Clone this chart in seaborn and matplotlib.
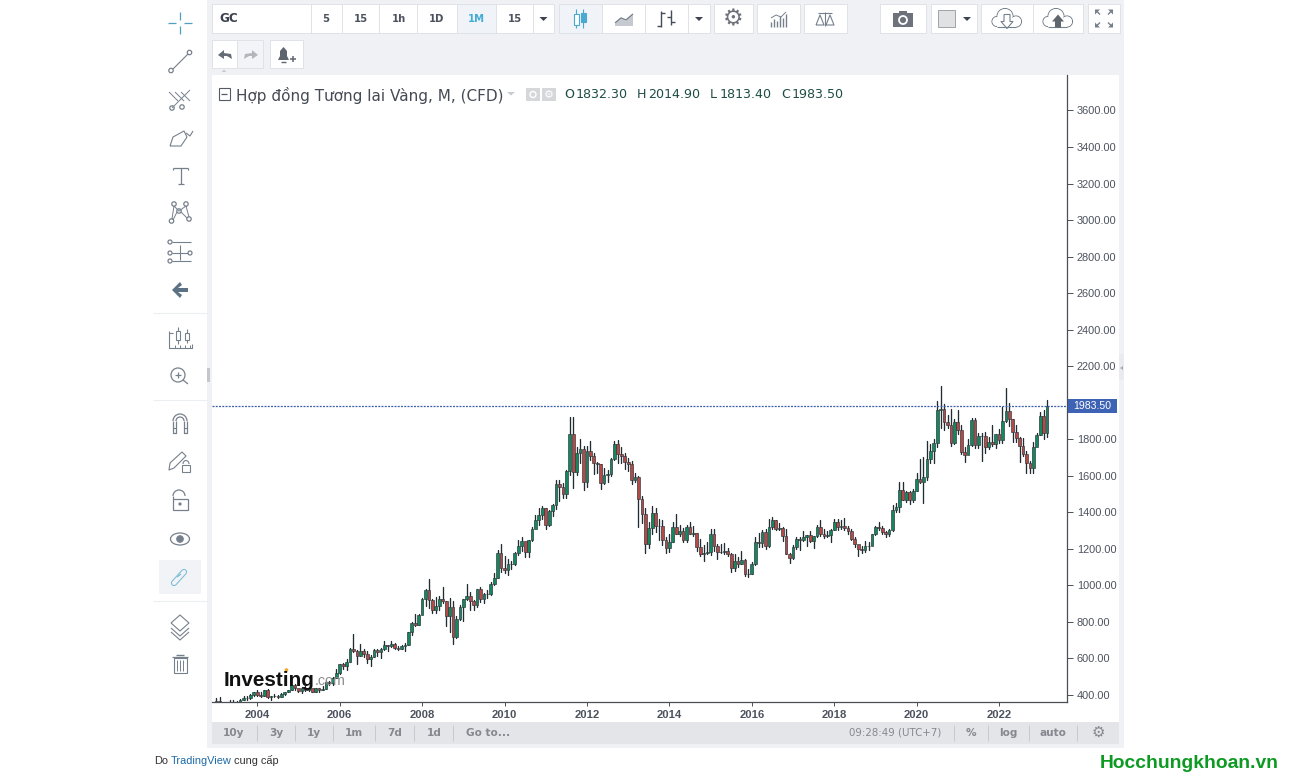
import numpy as np
import pandas as pd
import matplotlib
matplotlib.use("Agg")
import matplotlib.pyplot as plt
from matplotlib.patches import Rectangle, Circle, Polygon
import seaborn as sns

# Monthly candles, Jan 2003 .. Mar 2023
opens = [347,368,347,336,339,364,346,354,375,385,386,398,
 415,399,396,427,388,394,395,391,408,416,428,453,
 438,422,436,428,436,418,436,430,433,473,464,495,
 518,570,557,582,652,643,614,642,626,599,606,648,
 638,651,672,669,680,660,650,668,672,743,795,783,
 838,926,975,921,865,888,928,913,834,884,718,816,
 884,928,942,917,891,979,927,954,955,1008,1040,1179,
 1097,1083,1118,1115,1180,1213,1244,1181,1248,1307,1359,1386,
 1421,1333,1409,1439,1556,1536,1502,1628,1827,1620,1725,1746,
 1566,1738,1711,1669,1664,1560,1604,1610,1691,1776,1719,1711,
 1675,1662,1578,1595,1472,1393,1224,1313,1396,1327,1323,1250,
 1202,1240,1321,1284,1296,1246,1322,1282,1287,1210,1172,1175,
 1184,1279,1213,1183,1184,1190,1172,1095,1132,1115,1141,1065,
 1060,1118,1238,1234,1293,1217,1322,1357,1311,1313,1272,1173,
 1152,1210,1252,1251,1266,1276,1241,1269,1322,1283,1271,1275,
 1303,1345,1318,1325,1315,1299,1253,1224,1201,1192,1215,1217,
 1281,1320,1316,1292,1283,1305,1413,1427,1520,1465,1511,1470,
 1517,1582,1566,1596,1694,1736,1780,1962,1968,1892,1878,1780,
 1895,1850,1728,1713,1768,1905,1771,1817,1816,1755,1784,1776,
 1828,1796,1900,1954,1911,1842,1807,1764,1722,1672,1640,1759,
 1824,1928,1832.3]
highs = [383,390,352,341,373,371,367,377,393,392,408,417,
 427,418,428,432,397,406,402,412,418,430,457,458,
 429,444,447,438,431,441,439,447,476,476,498,542,
 571,575,595,660,733,645,678,654,640,620,651,650,
 660,693,672,695,683,670,674,682,745,797,845,842,
 931,978,1034,925,934,941,989,913,930,914,830,890,
 928,1007,962,920,981,989,960,974,1020,1070,1195,1227,
 1162,1144,1135,1183,1249,1266,1215,1250,1320,1388,1425,1432,
 1424,1412,1448,1577,1578,1560,1632,1920,1920,1760,1804,1764,
 1765,1790,1726,1677,1666,1640,1632,1695,1790,1798,1755,1725,
 1695,1680,1616,1600,1488,1424,1348,1434,1426,1361,1360,1266,
 1280,1345,1392,1332,1315,1331,1345,1323,1287,1255,1222,1240,
 1307,1308,1224,1225,1232,1205,1175,1170,1158,1191,1143,1090,
 1128,1263,1287,1305,1306,1362,1377,1358,1344,1318,1306,1178,
 1220,1264,1264,1297,1276,1298,1270,1331,1358,1306,1300,1309,
 1366,1366,1356,1369,1326,1310,1265,1221,1214,1245,1240,1284,
 1326,1349,1324,1300,1306,1442,1452,1565,1566,1518,1516,1525,
 1613,1691,1704,1788,1775,1802,2012,2089,1992,1933,1965,1911,
 1959,1877,1755,1800,1916,1919,1836,1835,1837,1814,1878,1830,
 1857,1976,2078,1998,1912,1879,1815,1808,1735,1683,1787,1833,
 1950,1960,2014.9]
lows = [345,346,323,325,337,338,342,352,372,371,380,396,
 393,390,394,386,375,390,385,388,402,415,425,430,
 414,413,424,420,414,414,417,430,433,457,456,492,
 513,540,537,580,636,567,615,610,575,560,606,612,
 604,645,640,665,651,644,650,642,671,727,777,783,
 846,885,875,849,850,866,902,775,745,681,713,808,
 807,920,866,865,884,908,906,932,950,1000,1040,1076,
 1070,1059,1088,1114,1165,1188,1157,1158,1242,1315,1331,1361,
 1309,1326,1381,1420,1462,1478,1478,1605,1534,1605,1668,1523,
 1540,1688,1612,1616,1527,1553,1565,1598,1684,1671,1670,1635,
 1627,1554,1565,1321,1339,1180,1207,1282,1292,1251,1221,1180,
 1182,1240,1280,1268,1240,1240,1280,1273,1190,1161,1131,1170,
 1167,1190,1142,1175,1170,1162,1072,1078,1098,1115,1052,1046,
 1061,1111,1208,1208,1200,1208,1310,1301,1305,1241,1171,1124,
 1146,1200,1195,1245,1214,1238,1205,1267,1272,1261,1265,1238,
 1302,1303,1307,1301,1282,1246,1210,1160,1180,1183,1196,1221,
 1276,1302,1281,1266,1273,1297,1400,1400,1465,1459,1445,1454,
 1517,1563,1451,1577,1669,1671,1757,1863,1850,1860,1764,1776,
 1828,1717,1673,1722,1765,1750,1750,1682,1725,1746,1762,1753,
 1781,1782,1892,1872,1785,1785,1678,1709,1615,1617,1616,1770,
 1825,1804,1813.4]
closes = [368,347,336,339,364,346,354,375,385,386,398,415,
 399,396,427,388,394,395,391,408,416,428,453,438,
 422,436,428,436,418,436,430,433,473,464,495,518,
 570,557,582,652,643,614,642,626,599,606,648,638,
 651,672,669,680,660,650,668,672,743,795,783,838,
 926,975,921,865,888,928,913,834,884,718,816,884,
 928,942,917,891,979,927,954,955,1008,1040,1179,1097,
 1083,1118,1115,1180,1213,1244,1181,1248,1307,1359,1386,1421,
 1333,1409,1439,1556,1536,1502,1628,1827,1620,1725,1746,1566,
 1738,1711,1669,1664,1560,1604,1610,1691,1776,1719,1711,1675,
 1662,1578,1595,1472,1393,1224,1313,1396,1327,1323,1250,1202,
 1240,1321,1284,1296,1246,1322,1282,1287,1210,1172,1175,1184,
 1279,1213,1183,1184,1190,1172,1095,1132,1115,1141,1065,1060,
 1118,1238,1234,1293,1217,1322,1357,1311,1313,1272,1173,1152,
 1210,1252,1251,1266,1276,1241,1269,1322,1283,1271,1275,1303,
 1345,1318,1325,1315,1299,1253,1224,1201,1192,1215,1217,1281,
 1320,1316,1292,1283,1305,1413,1427,1520,1465,1511,1470,1517,
 1582,1566,1596,1694,1736,1780,1962,1968,1892,1878,1780,1895,
 1850,1728,1713,1768,1905,1771,1817,1816,1755,1784,1776,1828,
 1796,1900,1954,1911,1842,1807,1764,1722,1672,1640,1759,1824,
 1928,1836,1983.5]
year_ticks = [2004,2006,2008,2010,2012,2014,2016,2018,2020,2022]
price_ticks = [400,600,800,1000,1200,1400,1600,1800,2000,2200,2400,2600,2800,3000,3200,3400,3600]
hidden_price_label = 2000   # covered by the last-price tag in the reference
last_price = 1983.5

sns.set_theme(style="white")
plt.rcParams['font.family'] = ['DejaVu Sans']
W, H = 1289, 782
fig = plt.figure(figsize=(W/100, H/100), dpi=100, facecolor="white")

# ---------- chrome background (pixel coordinates) ----------
bg = fig.add_axes([0,0,1,1], zorder=0); bg.set_xlim(0,W); bg.set_ylim(H,0); bg.axis("off")
fg = fig.add_axes([0,0,1,1], zorder=5); fg.set_xlim(0,W); fg.set_ylim(H,0); fg.axis("off"); fg.patch.set_alpha(0)
PANEL, BAR = "#eff1f5", "#e3e5e9"
EDGE, ICON, TXT = "#dfe2e7", "#76808c", "#4c525e"

def rect(x0,y0,x1,y1,fc="white",ec="none",ax=bg,lw=0.7,z=1):
    ax.add_patch(Rectangle((x0,y0),x1-x0,y1-y0,fc=fc,ec=ec,lw=lw,zorder=z))
def line(xs,ys,c=ICON,lw=0.9,ax=bg,z=3,**k):
    ax.plot(xs,ys,color=c,lw=lw,zorder=z,solid_capstyle=k.pop("cap","butt"),**k)
def circ(x,y,r,ec=ICON,fc="none",lw=0.9,ax=bg,z=3):
    ax.add_patch(Circle((x,y),r,ec=ec,fc=fc,lw=lw,zorder=z))
def text(x,y,s,px=11,c=TXT,ha="center",va="center",fam="Liberation Sans",w="normal",ax=bg,z=4):
    ax.text(x,y,s,fontsize=px*0.72,color=c,ha=ha,va=va,family=fam,weight=w,zorder=z)
def poly(pts,c=ICON,ax=bg,z=3):
    ax.add_patch(Polygon(pts,closed=True,fc=c,ec="none",zorder=z))

rect(207,0,1124,748,fc=PANEL)
rect(212,75,1119,722,fc="white")
rect(212,722,1119,744,fc=BAR)

# top toolbar boxes
for x0,x1 in [(212,554),(559,710),(714,753),(757,800),(804,847),(880,926),(931,977),(981,1083),(1088,1120)]:
    rect(x0,4,x1,33,fc="white",ec=EDGE)
rect(457,4.5,496,32.5,fc="#f0f3f7")
rect(559.5,4.5,602,32.5,fc="#f0f3f7")
for x in [311,342,379,417,457,496,533,602,645,688,1033]:
    line([x,x],[4,33],c=EDGE,lw=0.7)
text(219,19,"GC",px=12,fam="DejaVu Sans",w="bold",ha="left",c="#3c4250")
for x,s,c in [(326,"5",TXT),(361,"15",TXT),(399,"1h",TXT),(437,"1D",TXT),(476,"1M","#43acd6"),(515,"15",TXT)]:
    text(x,18.5,s,px=10,fam="DejaVu Sans",w="bold",c=c)
for x in [543.5,699,967]:
    poly([(x-4,17),(x+4,17),(x,21)],c="#3c4250")
# candle icon
line([576,576],[9,28],c="#49a9d0",lw=0.8); rect(573.5,14,578.5,25,fc="white",ec="#49a9d0",lw=0.8,z=3)
line([583,583],[9,28],c="#49a9d0",lw=0.8); rect(580.5,13,585.5,22,fc="#49a9d0",ec="#49a9d0",lw=0.8,z=3)
# area icon
poly([(615,24),(621,19),(626,21),(633,15),(633,26),(615,26)],c="#c6cad0")
line([615,621,626,633],[23,18,20,14],c=ICON,lw=1.0)
# bars icon
line([661,661],[11,27],c="#444c58",lw=1.0); line([657,661],[26,26],c="#444c58",lw=1.0); line([661,665],[13,13],c="#444c58",lw=1.0)
line([671,671],[10,25],c="#444c58",lw=1.0); line([667,671],[17,17],c="#444c58",lw=1.0); line([671,675],[22,22],c="#444c58",lw=1.0)
text(733.5,19,"\u2699",px=23,fam="DejaVu Sans",c="#6e737b")
# indicators icon
for i,h in enumerate([5,8,6,11,9,13]):
    line([771+i*3,771+i*3],[27,27-h],c=ICON,lw=1.0)
line([771,776,781,786],[18,15,17,12],c=ICON,lw=0.7)
# scale icon
line([825,825],[12,26],c=ICON,lw=0.8); line([818,832],[13,13],c=ICON,lw=0.8)
for cx in [820,830]:
    line([cx-4,cx,cx+4,cx-4],[25,15,25,25],c=ICON,lw=0.8)
# camera
rect(893,13,913,26.5,fc="#6e737b",z=3); rect(899,11,907,14,fc="#6e737b",z=3); circ(903,20,4,ec="white",fc="#6e737b",lw=1.3)
rect(938,10,955,27,fc="#e0e1e3",ec="#a0a4aa",z=3)
# clouds
def cloud(cx,cy,fill):
    ec = ICON
    for dx,dy,r in [(-10,3,5),(-2,-2,8),(9,3,5.5)]:
        circ(cx+dx,cy+dy,r,ec=ec,fc="white",lw=0.8,z=3)
    for dx,dy,r in [(-10,3,4.5),(-2,-2,7.5),(9,3,5)]:
        circ(cx+dx,cy+dy,r,ec="none",fc="white",lw=0,z=3.1)
    rect(cx-10,cy,cx+9,cy+8.4,fc="white",z=3.1)
    line([cx-10,cx+9],[cy+8.3,cy+8.3],c=ec,lw=0.8,z=3.2)
    if fill:
        poly([(cx-6,cy+3),(cx,cy-4),(cx+6,cy+3),(cx+3,cy+3),(cx+3,cy+9),(cx-3,cy+9),(cx-3,cy+3)],c="#5f656d",z=3.3)
    else:
        line([cx-3,cx-3,cx-6,cx,cx+6,cx+3,cx+3,cx-3],[cy-4,cy+3,cy+3,cy+10,cy+3,cy+3,cy-4,cy-4],c=ec,lw=0.8,z=3.3)
cloud(1007,18.5,False); cloud(1058,18.5,True)
# expand arrows
for sx,sy in [(-1,-1),(1,-1),(-1,1),(1,1)]:
    cx,cy = 1104+sx*6,18.5+sy*6
    poly([(cx+sx*3,cy+sy*3),(cx-sx*2,cy+sy*3),(cx+sx*3,cy-sy*2)],c=ICON)
    line([cx+sx*2,cx-sx*2],[cy+sy*2,cy-sy*2],c=ICON,lw=1.0)

# second row
rect(212,39.5,263,68,fc="#f3f4f7",ec=EDGE); rect(212,39.5,237,68,fc="white",ec=EDGE)
rect(269.5,39.5,303,68,fc="white",ec=EDGE)
poly([(218,55),(224,50),(224,53),(231,54),(232,59),(227,56),(224,56),(224,59)],c="#666c75")
poly([(258,55),(252,50),(252,53),(245,54),(244,59),(249,56),(252,56),(252,59)],c="#b3b7bc")
poly([(278,60),(280,56),(280,51),(283.5,47),(287,51),(287,56),(289,60)],c="#5f656d")
line([290,296],[58.5,58.5],c="#5f656d",lw=1.1); line([293,293],[55.5,61.5],c="#5f656d",lw=1.1)
line([281,286],[62,62],c="#5f656d",lw=1.0)
poly([(222,72),(226,72),(224,69.5)],c="#c0c4ca")

# left tool bar
for y in [313,400,601]:
    line([153,207],[y,y],c="#eceef1",lw=0.8)
rect(159,560,201,594,fc="#f1f3f6")
BL = "#4f9fc4"
for a,b in [((168,23),(176,23)),((184,23),(192,23)),((180,12),(180,20)),((180,26),(180,34))]:
    line([a[0],b[0]],[a[1],b[1]],c=BL,lw=0.9)
line([173,188],[69,54],lw=0.8); circ(171,70.5,2.2); circ(189.5,52.5,2.2)
for d in [0,6,12]:
    line([169+d,178+d],[92,101],lw=0.7)
line([172,190],[108,90],lw=0.7)
circ(172,108,2.2); circ(182,107,2.2)
# brush
line([170,173,184,187,181,170],[146,137,131,137,146,146],lw=0.8)
line([186,190,193],[133,136,131],lw=0.8)
# T
line([173,188],[168,168],lw=0.9); line([180.5,180.5],[168,184],lw=0.9); line([177.5,183.5],[184,184],lw=0.9)
line([173,173],[168,170],lw=0.9); line([188,188],[168,170],lw=0.9)
# pattern
for x,y in [(171.5,221),(174,204),(186,204),(189,219),(179,211)]:
    circ(x,y,2.2)
line([172,174,179,186,189],[219,206,211,206,217],lw=0.7); line([173,177],[220,212],lw=0.7); line([181,187],[212,218],lw=0.7)
# forecast
for y,(x0,x1) in zip([242,253,261],[(172,191),(172,188),(172,191)]):
    line([x0,x1],[y,y],lw=0.8)
for x,y in [(170,242),(170,253),(170,261),(190,253)]:
    circ(x,y,2)
line([180,180],[245,260],lw=0.8)
# arrow
poly([(172,290),(180,282),(182,285),(178,288),(188,288),(188,292),(178,292),(182,295),(180,298)],c="#5c7183")
# measure/candles
line([169,169,191.5,191.5],[331,348,348,344],lw=0.8); line([169,173],[333,333],lw=0.8)
for x in [175,180,185,190]:
    line([x,x],[345,348],lw=0.7)
rect(176,331,180,340,fc="white",ec=ICON,lw=0.8,z=3); line([178,178],[327,344],lw=0.8,z=2.5)
rect(185,333,189,340,fc="white",ec=ICON,lw=0.8,z=3); line([187,187],[329,343],lw=0.8,z=2.5)
# zoom
circ(178,375,7); line([183,188],[380,384]); line([175,181],[375,375]); line([178,178],[372,378])
poly([(207,368),(210,368),(210,382),(207,382)],c="#c3c6cb")
# magnet
bg.add_patch(matplotlib.patches.Arc((180,421),14,14,theta1=180,theta2=360,ec=ICON,lw=0.9,zorder=3))
bg.add_patch(matplotlib.patches.Arc((180,421),8,8,theta1=180,theta2=360,ec=ICON,lw=0.9,zorder=3))
line([173,173,176,176],[421,433,433,421],lw=0.9); line([187,187,184,184],[421,433,433,421],lw=0.9)
line([173,176],[428,428],lw=0.8); line([184,187],[428,428],lw=0.8)
# pencil lock
line([170,182,186,174,169,170],[463,452,456,468,470,463],lw=0.8)
rect(182,465,190,472,fc="white",ec=ICON,lw=0.8,z=3)
bg.add_patch(matplotlib.patches.Arc((186,464),6,7,theta1=180,theta2=360,ec=ICON,lw=0.8,zorder=3))
# lock
rect(172.5,499,187.5,510,fc="white",ec=ICON,lw=0.9,z=3); circ(180,504,1,fc=ICON)
bg.add_patch(matplotlib.patches.Arc((179,496),12,12,theta1=180,theta2=360,ec=ICON,lw=0.9,zorder=3))
line([173,173],[496,499],lw=0.9)
# eye
bg.add_patch(matplotlib.patches.Ellipse((180,539),19,12,ec=ICON,fc="white",lw=0.9,zorder=3)); circ(180,539,3.2,fc=ICON)
# link
line([174,184],[583,572],c="#79bcd8",lw=4.5,cap="round"); line([174,184],[583,572],c="#f1f3f6",lw=3,cap="round",z=3.1)
line([177,181],[577,574],c="#79bcd8",lw=0.9,z=3.2)
# layers
poly([(171,623),(180,615),(189,623),(180,631)],c="white")
line([171,180,189,180,171],[623,615,623,631,623],lw=0.8,z=3.1)
line([171,180,189],[628,636,628],lw=0.8); line([171,180,189],[632,640,632],lw=0.8)
# trash
rect(173.5,658,186.5,673,fc="white",ec=ICON,lw=0.8,z=3); line([172,188],[657,657],lw=0.9); line([176,184],[655,655],lw=1.0)
for x in [177,180,183]:
    line([x,x],[660,671],lw=0.7)
# handle on right
rect(1119,354,1124,380,fc="#e9ebef"); poly([(1123,366),(1120,368),(1123,370)],c="#a8acb2")

# bottom bar
for x,s in [(234,"10y"),(276,"3y"),(314,"1y"),(354,"1m"),(395,"7d"),(434,"1d")]:
    text(x,732.5,s,px=10.5,fam="DejaVu Sans",c="#85888e",w="bold")
text(466,732.5,"Go to...",px=10.5,fam="DejaVu Sans",c="#85888e",w="bold",ha="left")
for x in [257,295,333,375,414,453,954,988,1029,1077]:
    line([x,x],[725,741],c="#c6c9ce",lw=0.7)
text(941,732.5,"09:28:49 (UTC+7)",px=10.3,fam="DejaVu Sans",c="#85888e",ha="right")
for x,s in [(971,"%"),(1008,"log"),(1053,"auto")]:
    text(x,732.5,s,px=10.5,fam="DejaVu Sans",c="#85888e",w="bold")
text(1098,732,"\u2699",px=15,fam="DejaVu Sans",c="#85888e")

# footer
text(154,761,"Do",px=11,ha="left",c="#333333")
text(171,761,"TradingView",px=11,ha="left",c="#1f6aa8")
text(234,761,"cung cấp",px=11,ha="left",c="#333333")
text(1100,763.5,"Hocchungkhoan.vn",px=19.3,ha="left",w="bold",c="#0d9a22")

# ---------- price chart ----------
ax = fig.add_axes([212/W, (H-702)/H, 855/W, 627/H], zorder=2, facecolor="white")
df = pd.DataFrame({"m":np.arange(len(closes)),"o":opens,"h":highs,"l":lows,"c":closes})
df["low_body"] = df[["o","c"]].min(axis=1)
df["size"] = (df["c"]-df["o"]).abs()
up = df[df["c"]>=df["o"]]; dn = df[df["c"]<df["o"]]
wicks = pd.concat([df[["m","h"]].rename(columns={"h":"p"}), df[["m","l"]].rename(columns={"l":"p"})])
sns.lineplot(data=wicks, x="m", y="p", units="m", estimator=None, sort=False,
             color="#1f2c32", lw=0.95, ax=ax, legend=False, zorder=2)
for sub,col in [(up,"#14875f"),(dn,"#b34a48")]:
    sns.barplot(x=sub["m"].values, y=sub["size"].values, bottom=sub["low_body"].values,
                native_scale=True, errorbar=None, width=0.8, color=col, saturation=1,
                edgecolor="#2c3338", linewidth=0.45, ax=ax, zorder=3)
ax.axhline(last_price, color="#3b5fa8", lw=0.9, ls=(0,(1.6,1.0)), zorder=4)
ax.set_xlim(-1.19, 247.8)
ax.set_ylim(361.7, 3794)
ax.yaxis.tick_right()
ax.set_yticks(price_ticks)
ax.set_yticklabels(["" if v == hidden_price_label else f"{v:.2f}" for v in price_ticks])
ax.set_xticks([(y-2003)*12 for y in year_ticks]); ax.set_xticklabels([str(y) for y in year_ticks])
ax.set_xlabel(""); ax.set_ylabel("")
for s in ["left","top"]:
    ax.spines[s].set_visible(False)
for s in ["right","bottom"]:
    ax.spines[s].set_visible(True); ax.spines[s].set_color("#4a4e57"); ax.spines[s].set_linewidth(0.9)
ax.tick_params(axis="y", right=True, left=False, length=4, width=0.7, color="#4a4e57", pad=3,
               labelsize=7.9, labelcolor=TXT, labelfontfamily="Liberation Sans")
ax.tick_params(axis="x", bottom=True, length=3, width=0.7, color="#4a4e57", pad=2.5,
               labelsize=8.1, labelcolor=TXT, labelfontfamily="Liberation Sans")
ax.grid(False)
for lb in ax.get_xticklabels():
    lb.set_fontweight("bold")

# ---------- foreground ----------
rect(1067.5,399,1117,413,fc="#3e63b5",ax=fg,z=6)
text(1092,406,f"{last_price:.2f}",px=10.5,c="white",ax=fg,z=7)
rect(218.5,88,229.5,100,fc="white",ec="#555b66",ax=fg,lw=0.8); line([221,227],[94,94],c="#555b66",lw=0.9,ax=fg)
text(236,95,"Hợp đồng Tương lai Vàng, M, (CFD)",px=15.2,fam="DejaVu Sans",ha="left",c="#454a55",ax=fg)
poly([(507,92),(515,92),(511,95.5)],c="#c9cbd0",ax=fg)
rect(526,88,540,101,fc="#d5d7db",ax=fg); circ(533,94.5,3,ec="white",fc="none",lw=1,ax=fg)
rect(542,88,556,101,fc="#d5d7db",ax=fg); text(549,94.5,"\u2699",px=11,fam="DejaVu Sans",c="white",ax=fg)
OH = "#1d4d43"
for lx,l,vx,v in [(564,"O",576,"1832.30"),(637,"H",648,"2014.90"),(710,"L",720,"1813.40"),(781,"C",792,"1983.50")]:
    text(lx,95,l,px=12.6,fam="DejaVu Sans",ha="left",c=OH,ax=fg)
    text(vx,95,v,px=12.6,fam="DejaVu Sans",ha="left",c=OH,ax=fg)
# watermark
text(224,680.5,"Investing",px=20.8,ha="left",w="bold",c="#111111",ax=fg)
text(315,681,".com",px=14.2,ha="left",c="#8c8c8c",ax=fg)
circ(286.5,670,1.8,ec="none",fc="#f5a623",lw=0,ax=fg)

fig.savefig("out.png", dpi=100, facecolor="white")
